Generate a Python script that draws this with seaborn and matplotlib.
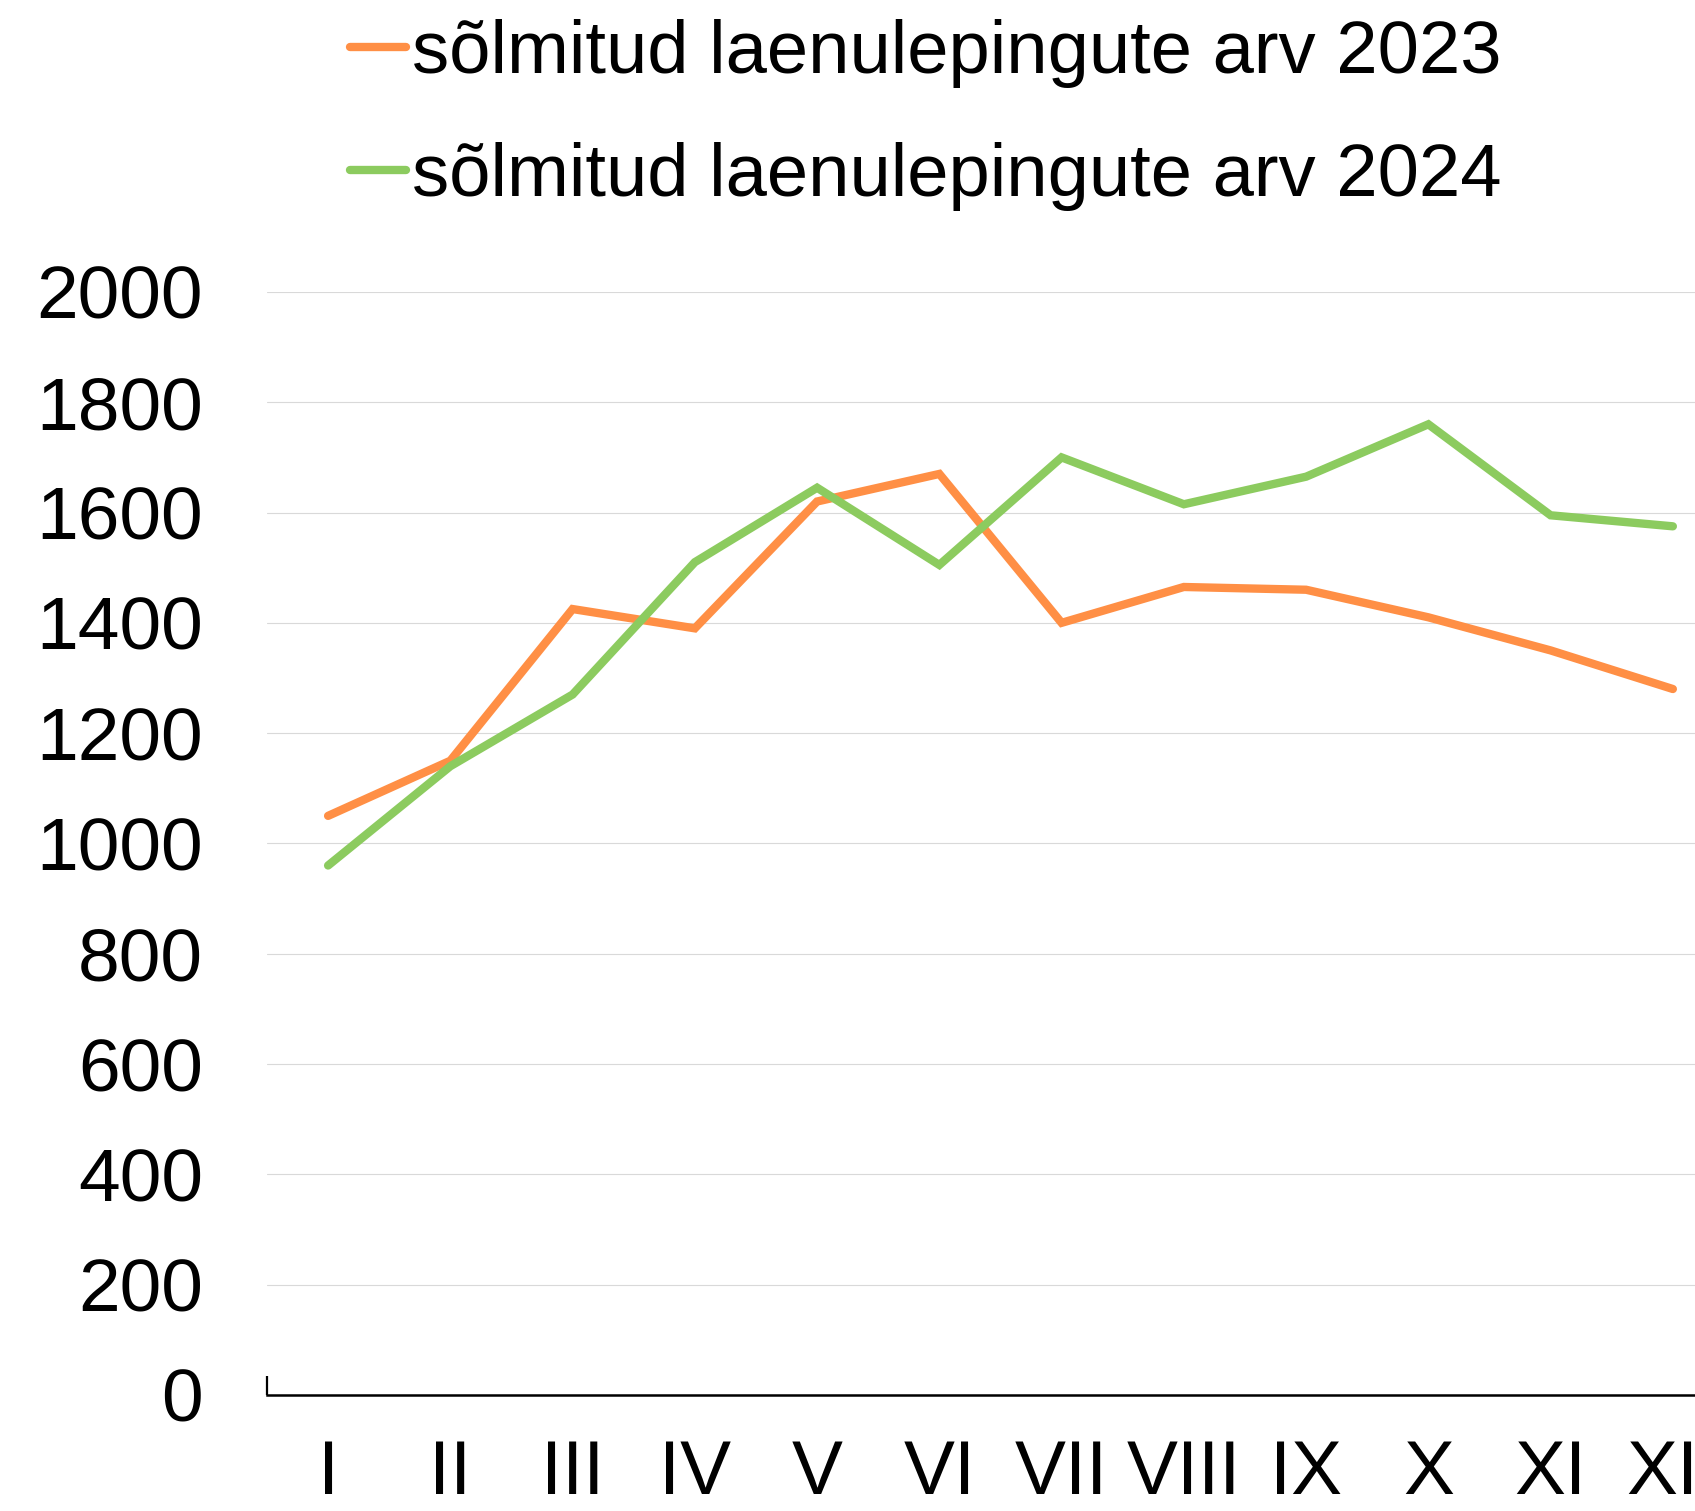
import pandas as pd
import numpy as np
import matplotlib
matplotlib.use("Agg")
import matplotlib.pyplot as plt
import seaborn as sns

# data
months = ['I', 'II', 'III', 'IV', 'V', 'VI', 'VII', 'VIII', 'IX', 'X', 'XI', 'XII']
lepingud_2023 = [1050, 1150, 1425, 1390, 1620, 1670, 1400, 1465, 1460, 1410, 1350, 1280]
lepingud_2024 = [960, 1140, 1270, 1510, 1645, 1505, 1700, 1615, 1665, 1760, 1595, 1575]
labels = ['sõlmitud laenulepingute arv 2023', 'sõlmitud laenulepingute arv 2024']
colors = ['#FF8F45', '#8CCB5F']

df = pd.DataFrame({
    'kuu': list(range(len(months))) * 2,
    'arv': lepingud_2023 + lepingud_2024,
    'seeria': [labels[0]] * len(months) + [labels[1]] * len(months),
})

sns.set_style('white')
plt.rcParams['font.family'] = ['Liberation Sans', 'DejaVu Sans']
plt.rcParams['text.color'] = 'black'
plt.rcParams['xtick.color'] = 'black'
plt.rcParams['ytick.color'] = 'black'

fig = plt.figure(figsize=(16.95, 15.11), dpi=100)
ax = fig.add_axes([0.1575, 0.0768, 0.8655, 0.730])

sns.lineplot(data=df, x='kuu', y='arv', hue='seeria', palette=colors,
             linewidth=6.0, ax=ax, legend=False, sort=False)
for ln in ax.lines:
    ln.set_solid_capstyle('round')
    ln.set_solid_joinstyle('miter')

ax.set_xlim(-0.5, len(months) - 0.5)
ax.set_ylim(0, 2000)
ax.set_yticks(range(0, 2001, 200))
ax.set_xticks(range(len(months)))
ax.set_xticklabels(months)
ax.set_xlabel('')
ax.set_ylabel('')

ax.grid(axis='y', color='#D9D9D9', linewidth=0.8)
ax.grid(axis='x', visible=False)
for s in ['top', 'right', 'left']:
    ax.spines[s].set_visible(False)
ax.spines['bottom'].set_color('black')
ax.spines['bottom'].set_linewidth(1.8)

ax.tick_params(axis='y', length=0, pad=46, labelsize=54, labelcolor='black')
ax.tick_params(axis='x', length=0, pad=32, labelsize=55, labelcolor='black')
# small tick at the left edge of the category axis
ax.set_xticks([-0.5], minor=True)
ax.tick_params(axis='x', which='minor', bottom=True, direction='in',
               length=14, width=1.6, color='black')

handles = [plt.Line2D([], [], color=c, linewidth=6.0, solid_capstyle='round') for c in colors]
fig.legend(handles, labels, loc='center', bbox_to_anchor=(0.546, 0.924),
           frameon=False, fontsize=53.5, handlelength=0.75, handletextpad=0.08,
           labelspacing=0.72)

fig.savefig('out.png', dpi=100)
